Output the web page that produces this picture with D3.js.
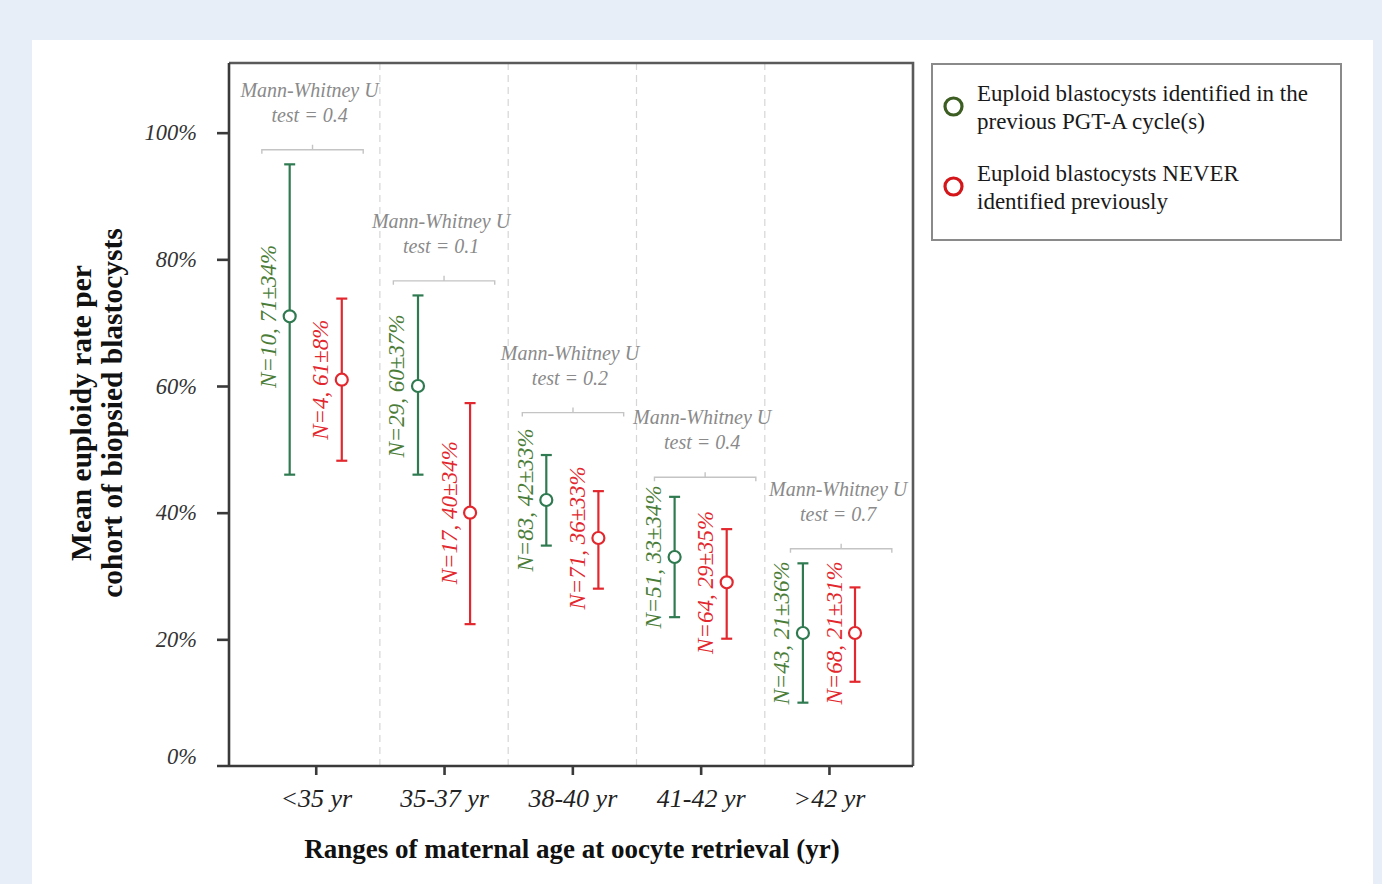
<!DOCTYPE html>
<html>
<head>
<meta charset="utf-8">
<script src="https://cdn.jsdelivr.net/npm/d3@7"></script>
<style>
  html, body { margin: 0; padding: 0; background: #e7eef8; }
  svg { display: block; }
  text { font-family: "Liberation Serif", "Times New Roman", serif; }
</style>
</head>
<body>
<svg id="chart" width="1382" height="884"></svg>
<script>
// Age ranges on the x axis
const ageGroups = ["<35 yr", "35-37 yr", "38-40 yr", "41-42 yr", ">42 yr"];

// Euploid blastocysts identified in the previous PGT-A cycle(s)
const prevN    = [10, 29, 83, 51, 43];
const prevMean = [71, 60, 42, 33, 21];
const prevSD   = [34, 37, 33, 34, 36];
const prevLow  = [46, 46, 34.8, 23.5, 10];
const prevHigh = [95, 74.3, 49.1, 42.5, 32];

// Euploid blastocysts never identified previously
const neverN    = [4, 17, 71, 64, 68];
const neverMean = [61, 40, 36, 29, 21];
const neverSD   = [8, 34, 33, 35, 31];
const neverLow  = [48.2, 22.4, 28, 20.1, 13.3];
const neverHigh = [73.8, 57.3, 43.4, 37.4, 28.2];

// Mann-Whitney U test results and bracket heights (%)
const pValues      = ["0.4", "0.1", "0.2", "0.4", "0.7"];
const bracketLevel = [97.3, 76.6, 55.8, 45.6, 34.3];

const yTicks = [0, 20, 40, 60, 80, 100];

const legendLabels = [
  ["Euploid blastocysts identified in the", "previous PGT-A cycle(s)"],
  ["Euploid blastocysts NEVER", "identified previously"]
];

// ---- layout ----
const W = 1382, H = 884;
const plot = { left: 229, right: 913, top: 63, bottom: 766 };
const seriesOffset = 0.203;
const bracketNudge = [-0.025, 0, 0.005, 0.035, 0.095];
const bracketHalf = 0.395;

const colors = {
  prevBar: "#2f7a50", prevText: "#4b7d38", prevLegend: "#3d5e22",
  neverBar: "#e2282e", neverText: "#e2282e", neverLegend: "#d4161b",
  axis: "#3a3a3a", note: "#8a8a8a", bracket: "#c4c4c4", grid: "#d6d6d6"
};

const svg = d3.select("#chart");

// page background and white panel
svg.append("rect").attr("width", W).attr("height", H).attr("fill", "#e7eef8");
svg.append("rect").attr("x", 32).attr("y", 40).attr("width", 1341).attr("height", H - 40).attr("fill", "#ffffff");

const x = d3.scaleLinear().domain([-0.676, 4.655]).range([plot.left, plot.right]);
const y = d3.scaleLinear().domain([0, 111]).range([plot.bottom, plot.top]);

// dashed separators between age groups
svg.append("g").selectAll("line")
  .data(d3.range(ageGroups.length - 1))
  .join("line")
  .attr("x1", d => x(d + 0.5)).attr("x2", d => x(d + 0.5))
  .attr("y1", plot.top).attr("y2", plot.bottom)
  .attr("stroke", colors.grid).attr("stroke-width", 1.2)
  .attr("stroke-dasharray", "7,5");

// plot frame
svg.append("path")
  .attr("d", `M${plot.left},${plot.top}H${plot.right}V${plot.bottom}`)
  .attr("fill", "none").attr("stroke", "#5a5a5a").attr("stroke-width", 2.6);
svg.append("path")
  .attr("d", `M${plot.left},${plot.top}V${plot.bottom}`)
  .attr("fill", "none").attr("stroke", colors.axis).attr("stroke-width", 2.6);
svg.append("line")
  .attr("x1", plot.left - 12).attr("x2", plot.right)
  .attr("y1", plot.bottom).attr("y2", plot.bottom)
  .attr("stroke", colors.axis).attr("stroke-width", 2.6);

// y axis
const yAxis = svg.append("g")
  .attr("transform", `translate(${plot.left},0)`)
  .call(d3.axisLeft(y).tickValues(yTicks).tickSize(12).tickPadding(20).tickFormat(d => d + "%"));
yAxis.select(".domain").remove();
yAxis.selectAll(".tick line").attr("stroke", colors.axis).attr("stroke-width", 2.6);
yAxis.selectAll(".tick text")
  .attr("font-size", 22.5).attr("font-style", "italic").attr("fill", "#333")
  .attr("font-family", "Liberation Serif, serif")
  .attr("dy", d => d === 0 ? "-0.1em" : "0.32em");
yAxis.selectAll(".tick").filter(d => d === 0).select("line").remove();

// x axis
const xAxis = svg.append("g")
  .attr("transform", `translate(0,${plot.bottom})`)
  .call(d3.axisBottom(x).tickValues(d3.range(ageGroups.length)).tickSize(9).tickPadding(14)
    .tickFormat(i => ageGroups[i]));
xAxis.select(".domain").remove();
xAxis.selectAll(".tick line").attr("stroke", colors.axis).attr("stroke-width", 2.6);
xAxis.selectAll(".tick text")
  .attr("font-size", 26).attr("font-style", "italic").attr("fill", "#222")
  .attr("font-family", "Liberation Serif, serif");

// axis titles
svg.append("text")
  .attr("x", 572).attr("y", 858)
  .attr("text-anchor", "middle").attr("font-size", 27).attr("font-weight", "bold").attr("fill", "#111")
  .text("Ranges of maternal age at oocyte retrieval (yr)");

const yTitle = svg.append("g").attr("transform", "translate(0,413) rotate(-90)");
yTitle.append("text").attr("x", 0).attr("y", 91)
  .attr("text-anchor", "middle").attr("font-size", 29.5).attr("font-weight", "bold").attr("fill", "#111")
  .text("Mean euploidy rate per");
yTitle.append("text").attr("x", 0).attr("y", 122)
  .attr("text-anchor", "middle").attr("font-size", 29.5).attr("font-weight", "bold").attr("fill", "#111")
  .text("cohort of biopsied blastocysts");

// build series rows
const series = [
  { key: "prev", shift: -seriesOffset, bar: colors.prevBar, text: colors.prevText,
    rows: ageGroups.map((g, i) => ({ i, n: prevN[i], mean: prevMean[i], sd: prevSD[i], lo: prevLow[i], hi: prevHigh[i] })) },
  { key: "never", shift: seriesOffset, bar: colors.neverBar, text: colors.neverText,
    rows: ageGroups.map((g, i) => ({ i, n: neverN[i], mean: neverMean[i], sd: neverSD[i], lo: neverLow[i], hi: neverHigh[i] })) }
];

const capW = 5.5;
series.forEach(s => {
  const g = svg.append("g").attr("class", "series-" + s.key);
  const item = g.selectAll("g").data(s.rows).join("g")
    .attr("transform", d => `translate(${x(d.i + s.shift)},0)`);
  item.append("line")
    .attr("y1", d => y(d.lo)).attr("y2", d => y(d.hi))
    .attr("stroke", s.bar).attr("stroke-width", 2.2);
  item.append("line")
    .attr("x1", -capW).attr("x2", capW)
    .attr("y1", d => y(d.hi)).attr("y2", d => y(d.hi))
    .attr("stroke", s.bar).attr("stroke-width", 2.2);
  item.append("line")
    .attr("x1", -capW).attr("x2", capW)
    .attr("y1", d => y(d.lo)).attr("y2", d => y(d.lo))
    .attr("stroke", s.bar).attr("stroke-width", 2.2);
  item.append("circle")
    .attr("cy", d => y(d.mean)).attr("r", 6)
    .attr("fill", "#fff").attr("stroke", s.bar).attr("stroke-width", 2.2);
  item.append("text")
    .attr("transform", d => `translate(-21,${y(d.mean)}) rotate(-90)`)
    .attr("text-anchor", "middle").attr("dominant-baseline", "central")
    .attr("font-size", 23).attr("font-style", "italic").attr("fill", s.text)
    .text(d => `N=${d.n}, ${d.mean}±${d.sd}%`);
});

// Mann-Whitney brackets and annotations
const notes = svg.append("g").selectAll("g")
  .data(ageGroups.map((g, i) => ({ i, p: pValues[i], level: bracketLevel[i] })))
  .join("g")
  .attr("transform", d => `translate(0,${y(d.level)})`);
notes.append("path")
  .attr("d", d => {
    const c = d.i + bracketNudge[d.i];
    const x0 = x(c - bracketHalf), x1 = x(c + bracketHalf), xm = x(c);
    return `M${x0},4V0H${x1}V4M${xm},0V-5`;
  })
  .attr("fill", "none").attr("stroke", colors.bracket).attr("stroke-width", 1.4);
notes.append("text")
  .attr("x", d => x(d.i + bracketNudge[d.i]) - 3).attr("y", -53)
  .attr("text-anchor", "middle").attr("font-size", 20).attr("font-style", "italic").attr("fill", colors.note)
  .text("Mann-Whitney U");
notes.append("text")
  .attr("x", d => x(d.i + bracketNudge[d.i]) - 3).attr("y", -28)
  .attr("text-anchor", "middle").attr("font-size", 20).attr("font-style", "italic").attr("fill", colors.note)
  .text(d => `test = ${d.p}`);

// legend
const legend = svg.append("g");
legend.append("rect")
  .attr("x", 932).attr("y", 64).attr("width", 409).attr("height", 176)
  .attr("fill", "#fff").attr("stroke", "#8a8a8a").attr("stroke-width", 2);
const legendColors = [colors.prevLegend, colors.neverLegend];
legendLabels.forEach((lines, k) => {
  const top = 101 + k * 80;
  legend.append("circle")
    .attr("cx", 953.5).attr("cy", top + 5.5).attr("r", 8.5)
    .attr("fill", "#fff").attr("stroke", legendColors[k]).attr("stroke-width", 3.2);
  lines.forEach((t, j) => {
    legend.append("text")
      .attr("x", 977).attr("y", top + j * 28)
      .attr("font-size", 23).attr("fill", "#1a1a1a")
      .text(t);
  });
});
</script>
</body>
</html>
